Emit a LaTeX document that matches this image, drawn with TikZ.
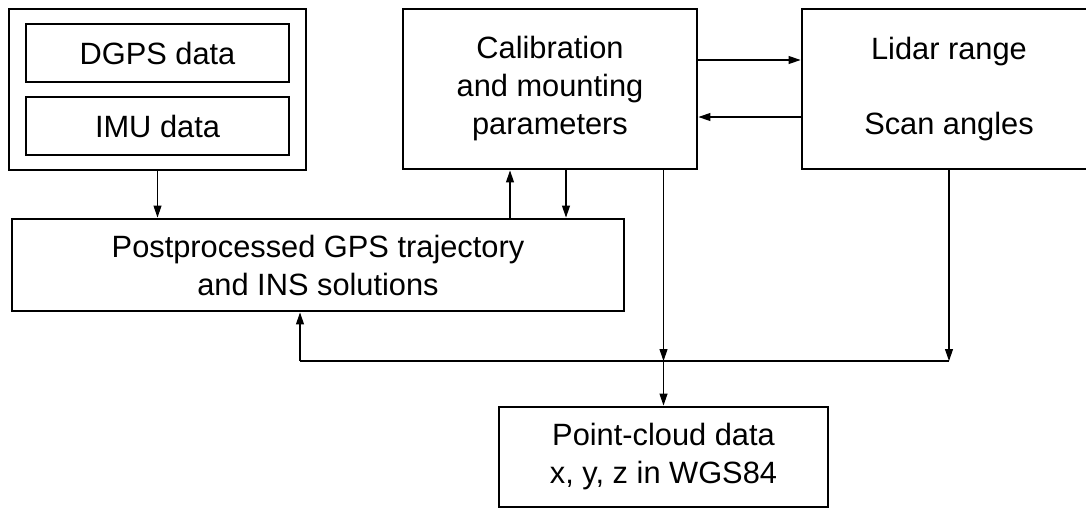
\documentclass[tikz,border=0pt]{standalone}
\usepackage{fontspec}
\setmainfont{Liberation Sans}
\usetikzlibrary{arrows.meta}

\begin{document}
\begin{tikzpicture}[x=0.5pt, y=-0.5pt,
    box/.style={draw, line width=1.45pt, inner sep=0pt, align=center,
      font=\fontsize{15.4}{19}\selectfont},
    arr/.style={line width=0.55pt, -{Triangle[length=6pt,width=4pt]}},
    wire/.style={line width=0.55pt}]
      \useasboundingbox (0,0) rectangle (1086,510);

      \node[box, minimum width=148.5pt, minimum height=80.5pt] (outer) at (157.5,89.5) {};
      \node[box, minimum width=131.5pt, minimum height=29pt] (dgps) at (157.5,53) {DGPS data};
      \node[box, minimum width=131.5pt, minimum height=29pt] (imu) at (157.5,126) {IMU data};
      \node[box, minimum width=147pt, minimum height=80pt] (calib) at (550,89)
        {Calibration\\and mounting\\parameters};
      \node[box, minimum width=147pt, minimum height=80pt] (lidar) at (949,89)
        {Lidar range\\[18.5pt]Scan angles};
      \node[box, minimum width=306pt, minimum height=46pt] (post) at (318,265)
        {Postprocessed GPS trajectory\\and INS solutions};
      \node[box, minimum width=164.5pt, minimum height=50pt] (cloud) at (663.5,457)
        {Point-cloud data\\x, y, z in WGS84};

      \coordinate (upx) at (510,0);
      \coordinate (dnx) at (566,0);
      \coordinate (ry) at (0,60);
      \coordinate (ly) at (0,117);
      \coordinate (jc) at (663.5,361);
      \coordinate (jl) at (949,361);
      \coordinate (jp) at (300,361);

      \draw[arr] (outer.south) -- (post.north -| outer.south);
      \draw[arr] (post.north -| upx) -- (calib.south -| upx);
      \draw[arr] (calib.south -| dnx) -- (post.north -| dnx);
      \draw[arr] (calib.east |- ry) -- (lidar.west |- ry);
      \draw[arr] (lidar.west |- ly) -- (calib.east |- ly);

      \draw[arr] (calib.south -| jc) -- (jc);
      \draw[arr] (jc) -- (cloud.north);
      \draw[arr] (lidar.south) -- (jl);
      \draw[wire] (jl) -- (jp);
      \draw[arr] (jp) -- (post.south -| jp);
    \end{tikzpicture}
\end{document}
